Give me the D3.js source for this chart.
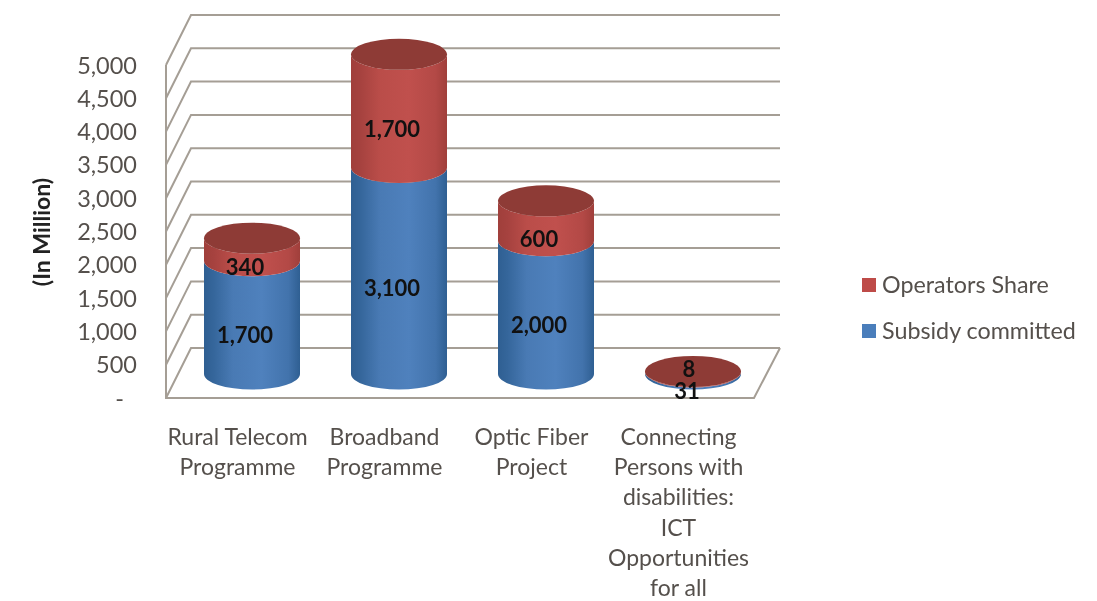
<!DOCTYPE html>
<html>
<head>
<meta charset="utf-8">
<script src="https://cdn.jsdelivr.net/npm/d3@7"></script>
<style>
  html, body { margin: 0; padding: 0; background: #fff; }
  svg { display: block; filter: blur(0.5px); }
  text { font-family: Lato, "Open Sans", sans-serif; }
</style>
</head>
<body>
<svg id="chart" width="1097" height="601"></svg>
<script>
const categories = [
  ['Rural Telecom', 'Programme'],
  ['Broadband', 'Programme'],
  ['Optic Fiber', 'Project'],
  ['Connecting', 'Persons with', 'disabilities:', 'ICT', 'Opportunities', 'for all']
];
const subsidyCommitted = [1700, 3100, 2000, 31];
const operatorsShare = [340, 1700, 600, 8];
const yTicks = [0, 500, 1000, 1500, 2000, 2500, 3000, 3500, 4000, 4500, 5000];
const seriesNames = ['Subsidy committed', 'Operators Share'];

let svg = d3.select('#chart');
let defs = svg.append('defs');

let margin = { left: 166, right: 343, top: 65, bottom: 203 };
let depth = { x: 25, y: -50 };
let width = +svg.attr('width');
let height = +svg.attr('height');

let names = categories.map(d => d.join(' '));

let x = d3.scaleBand()
  .domain(names)
  .range([margin.left, width - margin.right]);

let y = d3.scaleLinear()
  .domain([0, 5000])
  .range([height - margin.bottom, margin.top]);

let colors = {
  'Subsidy committed': { edge: '#2f5f92', mid: '#4f81bd', key: '#4a7ebb' },
  'Operators Share': { edge: '#a03f3b', mid: '#c0504d', key: '#be4b48' }
};

seriesNames.forEach((s, i) => {
  let mix = d3.interpolateRgb(colors[s].edge, colors[s].mid);
  let g = defs.append('linearGradient').attr('id', 'side' + i);
  [[0, colors[s].edge], [0.1, mix(0.2)], [0.3, mix(0.8)], [0.6, colors[s].mid], [0.88, mix(0.6)], [1, colors[s].edge]]
    .forEach(st => g.append('stop').attr('offset', st[0]).attr('stop-color', st[1]));
});

// walls and floor
let grid = svg.append('g')
  .attr('fill', 'none')
  .attr('stroke', '#a59e95')
  .attr('stroke-width', 2);

grid.selectAll('path.line').data(yTicks).enter().append('path')
  .attr('class', 'line')
  .attr('d', d => `M${margin.left},${y(d)}L${margin.left + depth.x},${y(d) + depth.y}H${width - margin.right + depth.x + 1}`);

grid.append('path')
  .attr('d', `M${margin.left},${y(5000)}V${y(0)}H${width - margin.right}L${width - margin.right + depth.x + 1},${y(0) + depth.y}`);

// axis, accounting style "-" for zero
let yAxis = d3.axisLeft(y)
  .tickValues(yTicks)
  .tickSize(0)
  .tickPadding(29)
  .tickFormat(d => d === 0 ? '-' : d3.format(',')(d));

let axisG = svg.append('g')
  .attr('transform', `translate(${margin.left},0.5)`)
  .call(yAxis);
axisG.select('.domain').remove();
axisG.selectAll('text')
  .attr('fill', '#55504c')
  .style('font-size', '23.5px')
  .style('font-family', 'Lato')
  .attr('dx', d => d === 0 ? -13 : 0);

svg.append('text')
  .attr('transform', 'translate(50,232) rotate(-90)')
  .attr('text-anchor', 'middle')
  .attr('font-size', 23)
  .attr('font-weight', 700)
  .attr('fill', '#222')
  .text('(In Million)');

// cylinders
let stacked = d3.stack().keys([0, 1]).value((d, k) => d[k])(
  subsidyCommitted.map((v, i) => [v, operatorsShare[i]])
);

let rx = 48;
let ry = 15.5;
let cx = i => x(names[i]) + x.bandwidth() / 2 + depth.x / 2;
let cy = v => y(v) + depth.y / 2 + 1;

stacked.forEach((layer, k) => {
  svg.append('g').selectAll('path').data(layer).enter().append('path')
    .attr('fill', `url(#side${k})`)
    .attr('d', (d, i) => {
      let l = cx(i) - rx, r = cx(i) + rx;
      return `M${l},${cy(d[0])}A${rx},${ry} 0 0 0 ${r},${cy(d[0])}` +
        `L${r},${cy(d[1])}A${rx},${ry} 0 0 1 ${l},${cy(d[1])}Z`;
    });
});

svg.append('g').selectAll('ellipse').data(stacked[1]).enter().append('ellipse')
  .attr('cx', (d, i) => cx(i))
  .attr('cy', d => cy(d[1]))
  .attr('rx', rx)
  .attr('ry', ry)
  .attr('fill', '#8e3b36');

// data labels
stacked.forEach((layer, k) => {
  svg.append('g').selectAll('text').data(layer).enter().append('text')
    .attr('x', (d, i) => cx(i) - 7 + (d[1] < 100 ? 2 * k + 1 : 0))
    // the 8 sits up on the top face, otherwise it would hit the 31
    .attr('y', d => y((d[0] + d[1]) / 2) - 6 - (d[1] < 100 && k === 1 ? 20 : 0))
    .attr('dy', '0.35em')
    .attr('text-anchor', 'middle')
    .attr('font-size', 22)
    .attr('font-weight', 700)
    .attr('fill', '#111')
    .text((d, i) => d3.format(',')(k === 0 ? subsidyCommitted[i] : operatorsShare[i]));
});

// category labels
let catG = svg.append('g').selectAll('text').data(categories).enter().append('text')
  .attr('text-anchor', 'middle')
  .attr('font-size', 23)
  .attr('fill', '#55504c');

catG.selectAll('tspan').data((d, i) => d.map(t => ({ t, i }))).enter().append('tspan')
  .attr('x', d => x(names[d.i]) + x.bandwidth() / 2 - 2)
  .attr('y', (d, j) => 445 + j * 30.2)
  .text(d => d.t);

// legend
let legend = svg.append('g').selectAll('g').data(seriesNames.slice().reverse()).enter().append('g')
  .attr('transform', (d, i) => `translate(862,${278 + i * 46})`);

legend.append('rect')
  .attr('width', 14)
  .attr('height', 14)
  .attr('fill', d => colors[d].key);

legend.append('text')
  .attr('x', 20)
  .attr('y', 7)
  .attr('dy', '0.35em')
  .attr('font-size', 23.3)
  .attr('fill', '#55504c')
  .text(d => d);
</script>
</body>
</html>
